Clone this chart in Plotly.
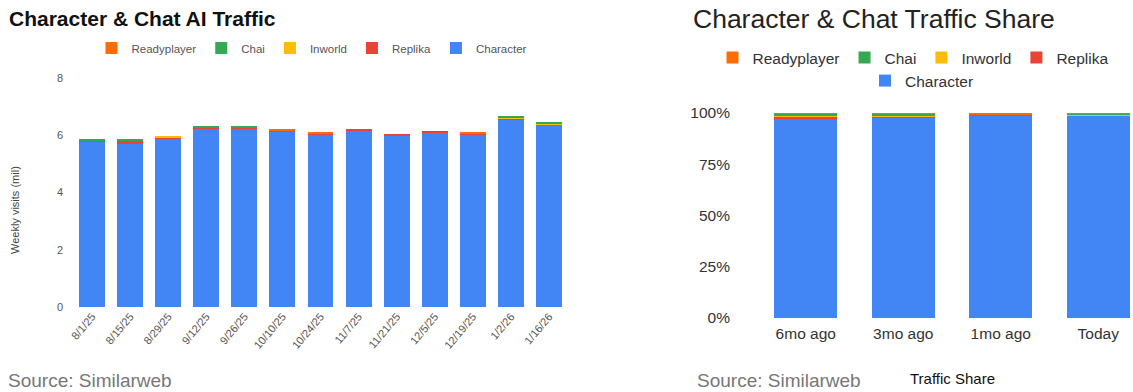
import plotly.graph_objects as go
from plotly.subplots import make_subplots

# ---- Data: weekly visits (millions) ----
dates = ["8/1/25", "8/15/25", "8/29/25", "9/12/25", "9/26/25", "10/10/25", "10/24/25",
         "11/7/25", "11/21/25", "12/5/25", "12/19/25", "1/2/26", "1/16/26"]
character = [5.78, 5.70, 5.87, 6.22, 6.23, 6.13, 6.03, 6.17, 5.99, 6.09, 6.03, 6.56, 6.36]
replika = [0.04, 0.12, 0.03, 0.05, 0.04, 0.04, 0.03, 0.05, 0.04, 0.06, 0.03, 0.02, 0.02]
inworld = [0.00, 0.00, 0.08, 0.00, 0.00, 0.00, 0.00, 0.00, 0.00, 0.00, 0.00, 0.03, 0.03]
chai = [0.05, 0.05, 0.00, 0.06, 0.06, 0.00, 0.00, 0.00, 0.00, 0.00, 0.00, 0.04, 0.04]
readyplayer = [0.00, 0.00, 0.00, 0.00, 0.00, 0.05, 0.07, 0.00, 0.00, 0.00, 0.03, 0.00, 0.00]

# ---- Data: traffic share ----
periods = ["6mo ago", "3mo ago", "1mo ago", "Today"]
character_share = [0.975, 0.976, 0.987, 0.988]
replika_share = [0.008, 0.008, 0.005, 0.002]
inworld_share = [0.001, 0.001, 0.001, 0.004]
chai_share = [0.015, 0.014, 0.002, 0.005]
readyplayer_share = [0.001, 0.001, 0.005, 0.001]

y_ticks_left = [0, 2, 4, 6, 8]
y_ticks_right = [0, 0.25, 0.5, 0.75, 1.0]

colors = {
    "Character": "#4285F4",
    "Replika": "#EA4335",
    "Inworld": "#FBBC04",
    "Chai": "#34A853",
    "Readyplayer": "#FF6D01",
}

W, H = 1133, 392
FONT = "Liberation Sans, Arial, sans-serif"


def px(x):
    return x / W


def py(y):
    return 1 - y / H


fig = make_subplots(rows=1, cols=2)

left_series = [("Character", character), ("Replika", replika), ("Inworld", inworld),
               ("Chai", chai), ("Readyplayer", readyplayer)]
right_series = [("Character", character_share), ("Replika", replika_share),
                ("Inworld", inworld_share), ("Chai", chai_share),
                ("Readyplayer", readyplayer_share)]

for name, vals in left_series:
    fig.add_trace(go.Bar(x=dates, y=vals, name=name, marker_color=colors[name],
                         marker_line_width=0, width=0.68, legend="legend",
                         hoverinfo="x+y+name"), row=1, col=1)

for name, vals in right_series:
    lg = "legend3" if name == "Character" else "legend2"
    fig.add_trace(go.Bar(x=periods, y=vals, name=name, marker_color=colors[name],
                         marker_line_width=0, width=0.65, legend=lg,
                         hoverinfo="x+y+name"), row=1, col=2)

fig.update_layout(
    width=W, height=H,
    margin=dict(l=0, r=0, t=0, b=0, autoexpand=False),
    barmode="stack",
    paper_bgcolor="white", plot_bgcolor="white",
    font=dict(family=FONT, color="#444"),
    showlegend=True,
    legend=dict(orientation="h", x=px(312), y=py(48), xanchor="center", yanchor="middle",
                traceorder="reversed", font=dict(size=11.5, color="#555"),
                itemwidth=30, bgcolor="rgba(0,0,0,0)"),
    legend2=dict(orientation="h", x=px(913), y=py(58), xanchor="center", yanchor="middle",
                 traceorder="reversed", font=dict(size=15.5, color="#333"),
                 bgcolor="rgba(0,0,0,0)"),
    legend3=dict(orientation="h", x=px(922), y=py(81), xanchor="center", yanchor="middle",
                 font=dict(size=15.5, color="#333"), bgcolor="rgba(0,0,0,0)"),
)

fig.update_xaxes(domain=[px(73), px(568)], row=1, col=1, tickangle=-50,
                 tickfont=dict(size=11, color="#555"), showgrid=False, showline=False,
                 zeroline=False, range=[-0.5, 12.5], automargin=False)
fig.update_yaxes(domain=[py(307), py(78)], row=1, col=1, range=[0, 8],
                 tickvals=y_ticks_left, tickfont=dict(size=11, color="#555"),
                 showgrid=False, zeroline=False, showline=False, ticklabelstandoff=9,
                 automargin=False)

fig.update_xaxes(domain=[px(757), 1.0], row=1, col=2, range=[-0.5, 3.356],
                 tickfont=dict(size=15.5, color="#333"), showgrid=False, showline=False,
                 zeroline=False, ticklabelstandoff=4, automargin=False)
fig.update_yaxes(domain=[py(318), py(113)], row=1, col=2, range=[0, 1],
                 tickvals=y_ticks_right, tickformat=".0%",
                 tickfont=dict(size=15.5, color="#333"), showgrid=False, zeroline=False,
                 showline=False, ticklabelstandoff=26, automargin=False)

annotations = [
    dict(text="<b>Character & Chat AI Traffic</b>", x=px(7), y=py(19), xanchor="left",
         yanchor="middle", font=dict(size=21, color="#111")),
    dict(text="Character & Chat Traffic Share", x=px(691), y=py(19), xanchor="left",
         yanchor="middle", font=dict(size=26.5, color="#222")),
    dict(text="Weekly visits (mil)", x=px(15), y=py(210), xanchor="center",
         yanchor="middle", textangle=-90, font=dict(size=11, color="#444")),
    dict(text="Source: Similarweb", x=px(6), y=py(380), xanchor="left", yanchor="middle",
         font=dict(size=19, color="#777")),
    dict(text="Source: Similarweb", x=px(695), y=py(380), xanchor="left", yanchor="middle",
         font=dict(size=19, color="#777")),
    dict(text="Traffic Share", x=px(908), y=py(378), xanchor="left", yanchor="middle",
         font=dict(size=15, color="#111")),
]
for a in annotations:
    a.update(xref="paper", yref="paper", showarrow=False)
fig.update_layout(annotations=annotations)

fig.write_html("out.html")
